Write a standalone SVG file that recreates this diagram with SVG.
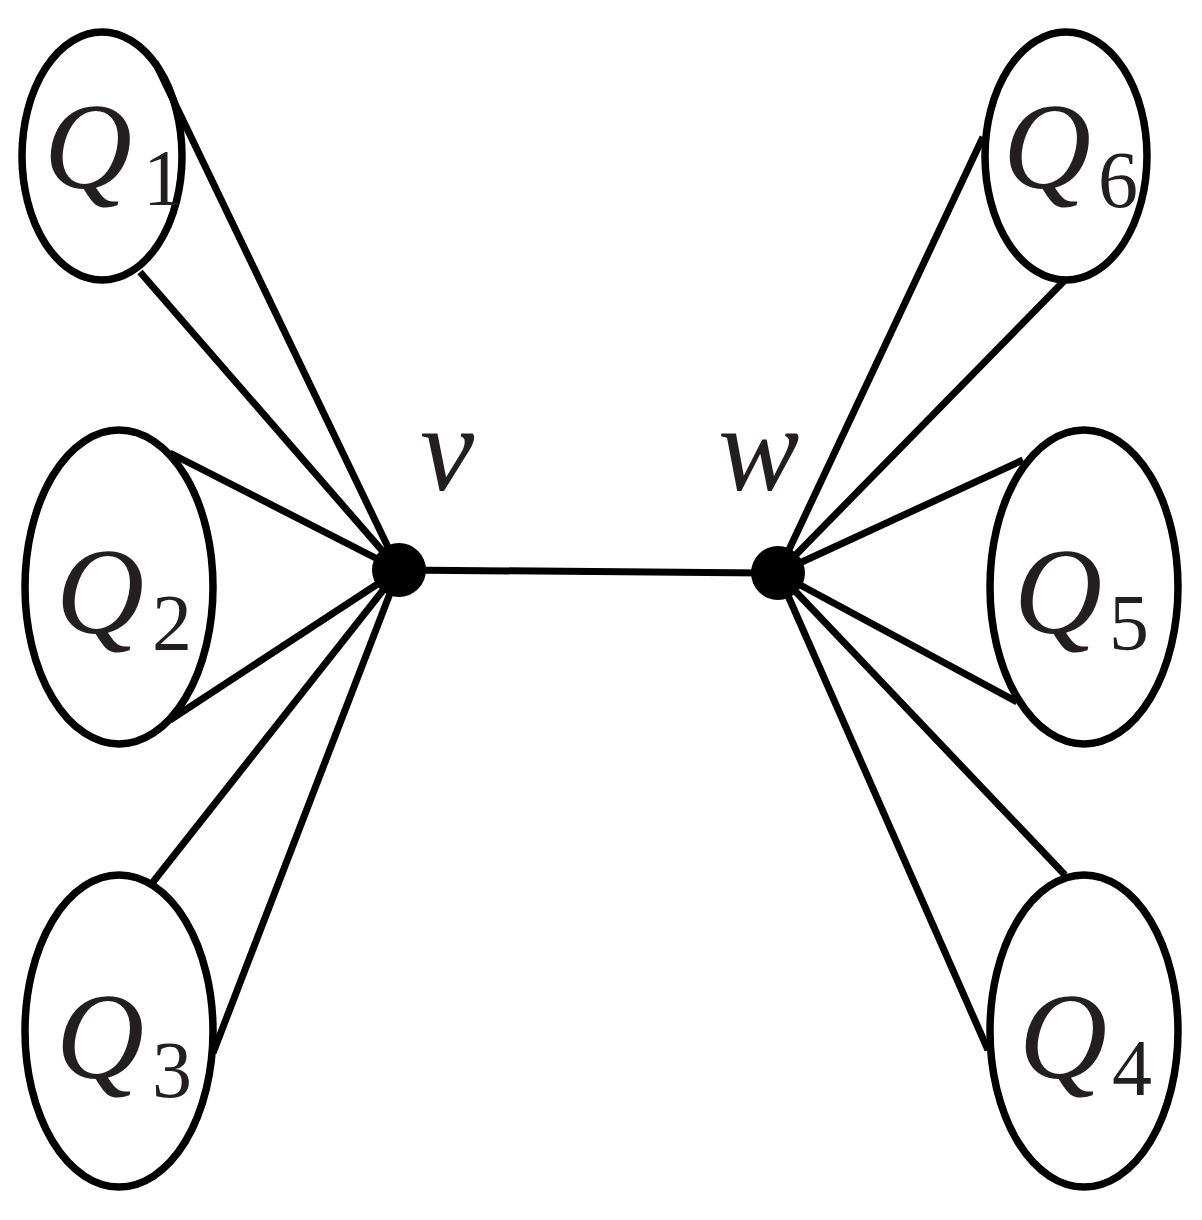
<svg xmlns="http://www.w3.org/2000/svg" width="1202" height="1220" viewBox="0 0 1202 1220">
<style>
.e{fill:none;stroke:#000;stroke-width:7.5}
.c line{stroke:#000;stroke-width:7;stroke-linecap:butt}
.q{font-family:"Liberation Serif","DejaVu Serif",serif;font-style:italic;font-size:122px;fill:#231f20}
.s{font-family:"Liberation Serif","DejaVu Serif",serif;font-size:80px;fill:#231f20}
.d{fill:#000}
</style>
<rect width="1202" height="1220" fill="#fff"/>
<g id="connectors" class="c">
<line x1="399" y1="570" x2="778" y2="573"/>
<line x1="399" y1="570" x2="155" y2="62"/>
<line x1="399" y1="570" x2="140" y2="272"/>
<line x1="399" y1="570" x2="170" y2="453"/>
<line x1="399" y1="570" x2="170" y2="720"/>
<line x1="399" y1="570" x2="153" y2="882"/>
<line x1="399" y1="570" x2="213" y2="1053"/>
<line x1="778" y1="573" x2="983" y2="137"/>
<line x1="778" y1="573" x2="1065" y2="280"/>
<line x1="778" y1="573" x2="1023" y2="460"/>
<line x1="778" y1="573" x2="1017" y2="702"/>
<line x1="778" y1="573" x2="1065" y2="875"/>
<line x1="778" y1="573" x2="988" y2="1050"/>
</g>
<g id="Q1"><ellipse class="e" cx="102" cy="156" rx="80" ry="124"/><text class="q" x="44" y="188">Q</text><text class="s" x="143" y="205">1</text></g>
<g id="Q2"><ellipse class="e" cx="119" cy="587" rx="94" ry="157"/><text class="q" x="56" y="633">Q</text><text class="s" x="152" y="650">2</text></g>
<g id="Q3"><ellipse class="e" cx="119" cy="1031" rx="94" ry="156"/><text class="q" x="56" y="1078">Q</text><text class="s" x="152" y="1097">3</text></g>
<g id="Q6"><ellipse class="e" cx="1066" cy="156" rx="81" ry="124"/><text class="q" x="1003" y="188">Q</text><text class="s" x="1098" y="207">6</text></g>
<g id="Q5"><ellipse class="e" cx="1084" cy="587" rx="94" ry="157"/><text class="q" x="1014" y="633">Q</text><text class="s" x="1109" y="650">5</text></g>
<g id="Q4"><ellipse class="e" cx="1084" cy="1031" rx="94" ry="156"/><text class="q" x="1019" y="1078">Q</text><text class="s" x="1112" y="1095">4</text></g>
<g id="v"><circle class="d" cx="399" cy="570" r="27"/><text class="q" x="420" y="490">v</text></g>
<g id="w"><circle class="d" cx="778" cy="573" r="27"/><text class="q" x="718" y="490">w</text></g>
</svg>
